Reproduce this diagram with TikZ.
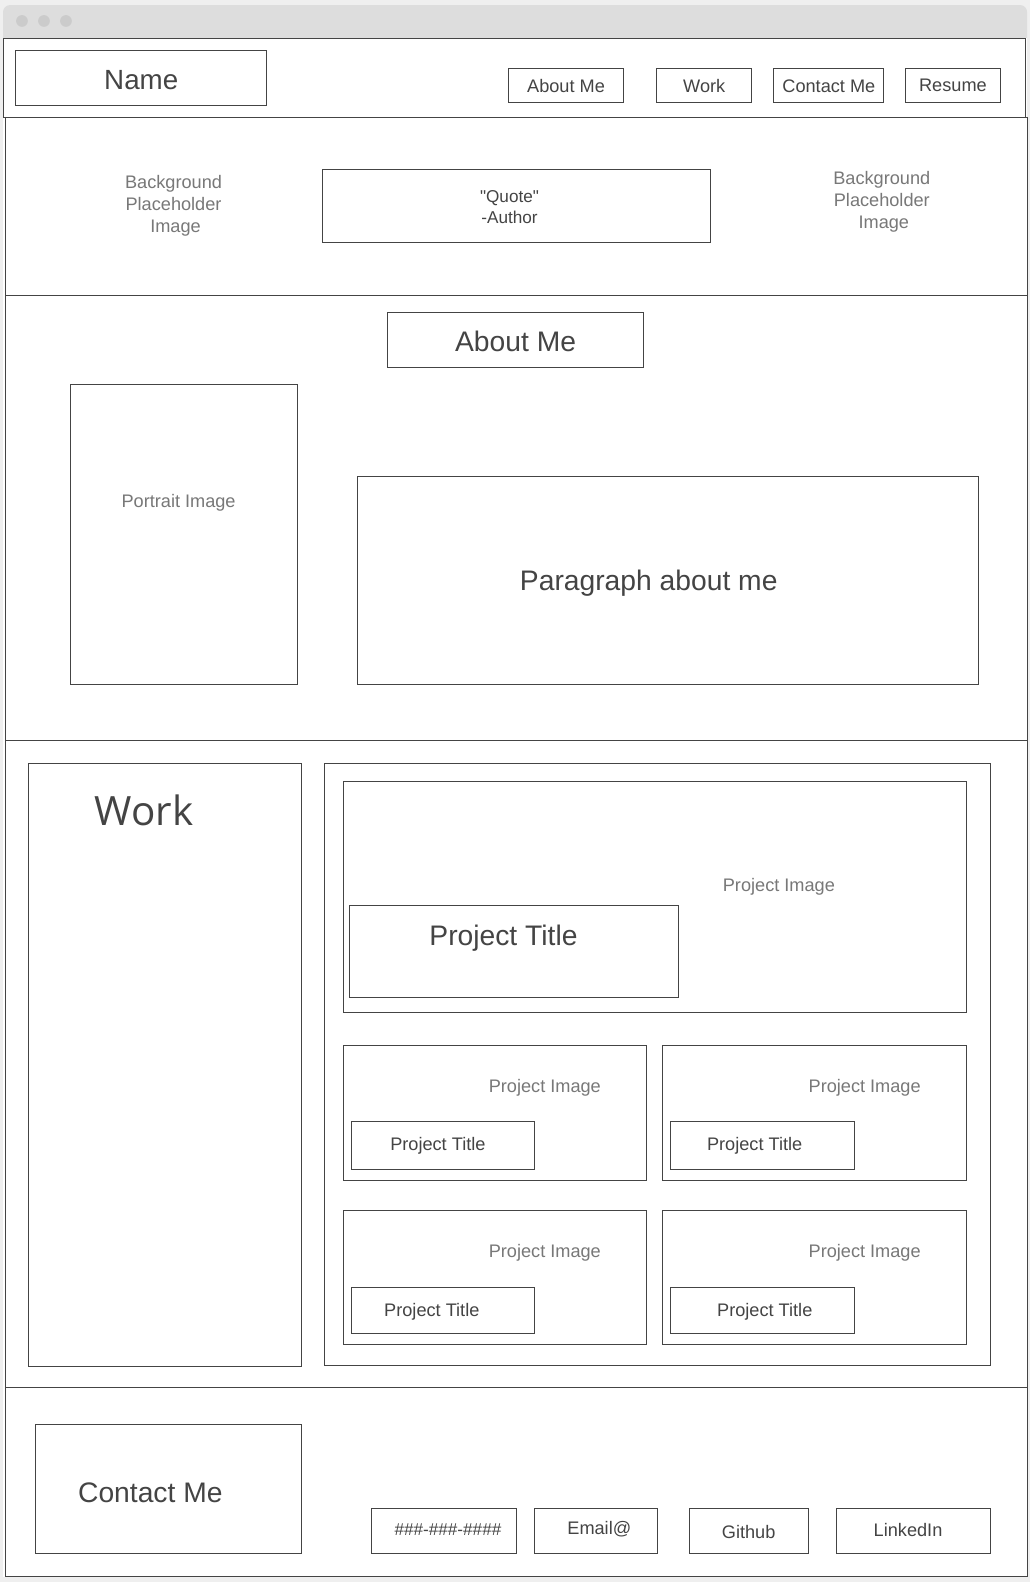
\documentclass[tikz,border=0pt]{standalone}
\usepackage{fontspec}
\setmainfont{Liberation Sans}
\newfontfamily\plainfont{Liberation Sans}
\newfontfamily\headfont{Open Sans}
\usetikzlibrary{fit}

\definecolor{pagebg}{HTML}{EFEFEF}
\definecolor{barbg}{HTML}{DDDDDD}
\definecolor{dotc}{HTML}{CBCBCB}
\definecolor{linec}{HTML}{444444}
\definecolor{inkc}{HTML}{444444}
\definecolor{hintc}{HTML}{787878}

\newcommand\setfs[1]{\fontsize{#1}{1.22\dimexpr#1pt\relax}\selectfont}

\tikzset{
  frame/.style={draw=linec, line width=1pt, inner sep=0pt, fit={#1}},
  ink/.style={text=inkc, inner sep=0pt, align=center},
  hint/.style={text=hintc, inner sep=0pt, align=center},
}

\begin{document}
\begin{tikzpicture}[x=1pt, y=-1pt]
  % page and window chrome
  \fill[pagebg] (0,0) rectangle (1021,1568);
  \useasboundingbox (0,0) rectangle (1021,1568);
  \fill[barbg] (3,38) [rounded corners=7pt] -- (3,5) -- (1018,5) [sharp corners] -- (1018,38) -- cycle;
  \fill[dotc] (21.8,20.8) circle (5.8) (43.6,20.8) circle (5.8) (65.4,20.8) circle (5.8);
  \fill[white] (3,38) rectangle (1018,1563);

  % header bar
  \node[frame={(3,38) (1016,116)}] (header) {};
  \node[frame={(15,50) (264,105)}] (namebox) {};
  \node[ink, font=\setfs{27.5}] (nametxt) at (140,79.5) {Name};
  \node[frame={(504,68) (618,102)}] (navabout) {};
  \node[ink, font=\setfs{18}] at ([yshift=-0.5pt]navabout.center) {About Me};
  \node[frame={(651,68) (745,102)}] (navwork) {};
  \node[ink, font=\setfs{18}] at ([yshift=-0.5pt]navwork.center) {Work};
  \node[frame={(767,68) (876,102)}] (navcontact) {};
  \node[ink, font=\setfs{18}] at (navcontact) {Contact Me};
  \node[frame={(897,68) (992,102)}] (navresume) {};
  \node[ink, font=\setfs{18}] at (navresume) {Resume};

  % hero section
  \node[frame={(5,116) (1018,293)}] (hero) {};
  \node[hint, font=\setfs{18}] (bgleft) at (172,204) {Background\\Placeholder\\\hspace*{4pt}Image};
  \node[frame={(320,168) (704,240)}] (quotebox) {};
  \node[ink, font=\plainfont\setfs{17}] (quotetxt) at (505,205) {"Quote"\\-Author};
  \node[hint, font=\setfs{18}] (bgright) at (874,200) {Background\\Placeholder\\\hspace*{4pt}Image};

  % about section
  \node[frame={(5,293) (1018,734)}] (about) {};
  \node[frame={(384,310) (638,364)}] (abouthead) {};
  \node[ink, font=\setfs{28}] at ([yshift=-1.5pt]abouthead.center) {About Me};
  \node[frame={(70,381) (295,678)}] (portrait) {};
  \node[hint, font=\setfs{18}] (portraittxt) at (177,498) {Portrait Image};
  \node[frame={(354,472) (970,678)}] (parabox) {};
  \node[ink, font=\setfs{28}] (paratxt) at (643,578) {Paragraph about me};

  % work section
  \node[frame={(5,734) (1018,1375)}] (work) {};
  \node[frame={(28,757) (299,1354)}] (worklist) {};
  \node[ink, font=\headfont\setfs{40}] (worktxt) at (143,803) {Work};
  \node[frame={(322,757) (982,1353)}] (projects) {};

  \node[frame={(340,775) (958,1004)}] (projbig) {};
  \node[hint, font=\setfs{18}] at (772,879) {Project Image};
  \node[frame={(346,897) (672,989)}] (projbigtitle) {};
  \node[ink, font=\setfs{28}] at (499,930) {Project Title};

  \node[frame={(340,1036) (641,1170)}] (projA) {};
  \node[hint, font=\setfs{18}] at (540,1078) {Project Image};
  \node[frame={(348,1112) (530,1159)}] (projAtitle) {};
  \node[ink, font=\setfs{18}] at (434,1136) {Project Title};

  \node[frame={(657,1036) (958,1170)}] (projB) {};
  \node[hint, font=\setfs{18}] at (857,1078) {Project Image};
  \node[frame={(665,1112) (847,1159)}] (projBtitle) {};
  \node[ink, font=\setfs{18}] at (748,1136) {Project Title};

  \node[frame={(340,1200) (641,1333)}] (projC) {};
  \node[hint, font=\setfs{18}] at (540,1242) {Project Image};
  \node[frame={(348,1276) (530,1322)}] (projCtitle) {};
  \node[ink, font=\setfs{18}] at (428,1300) {Project Title};

  \node[frame={(657,1200) (958,1333)}] (projD) {};
  \node[hint, font=\setfs{18}] at (857,1242) {Project Image};
  \node[frame={(665,1276) (847,1322)}] (projDtitle) {};
  \node[ink, font=\setfs{18}] at (758,1300) {Project Title};

  % contact section
  \node[frame={(5,1375) (1018,1563)}] (contact) {};
  \node[frame={(35,1412) (299,1540)}] (contactbox) {};
  \node[ink, font=\setfs{28}] (contacttxt) at (149,1480) {Contact Me};
  \node[frame={(368,1495) (512,1540)}] (phone) {};
  \node[ink, font=\setfs{17}] at (444,1516) {\#\#\#-\#\#\#-\#\#\#\#};
  \node[frame={(530,1495) (652,1540)}] (email) {};
  \node[ink, font=\setfs{18}] at (594,1516) {Email@};
  \node[frame={(683,1495) (801,1540)}] (github) {};
  \node[ink, font=\setfs{18}] at (742,1518) {Github};
  \node[frame={(829,1495) (982,1540)}] (linkedin) {};
  \node[ink, font=\setfs{18}] at (900,1516) {LinkedIn};
\end{tikzpicture}
\end{document}
